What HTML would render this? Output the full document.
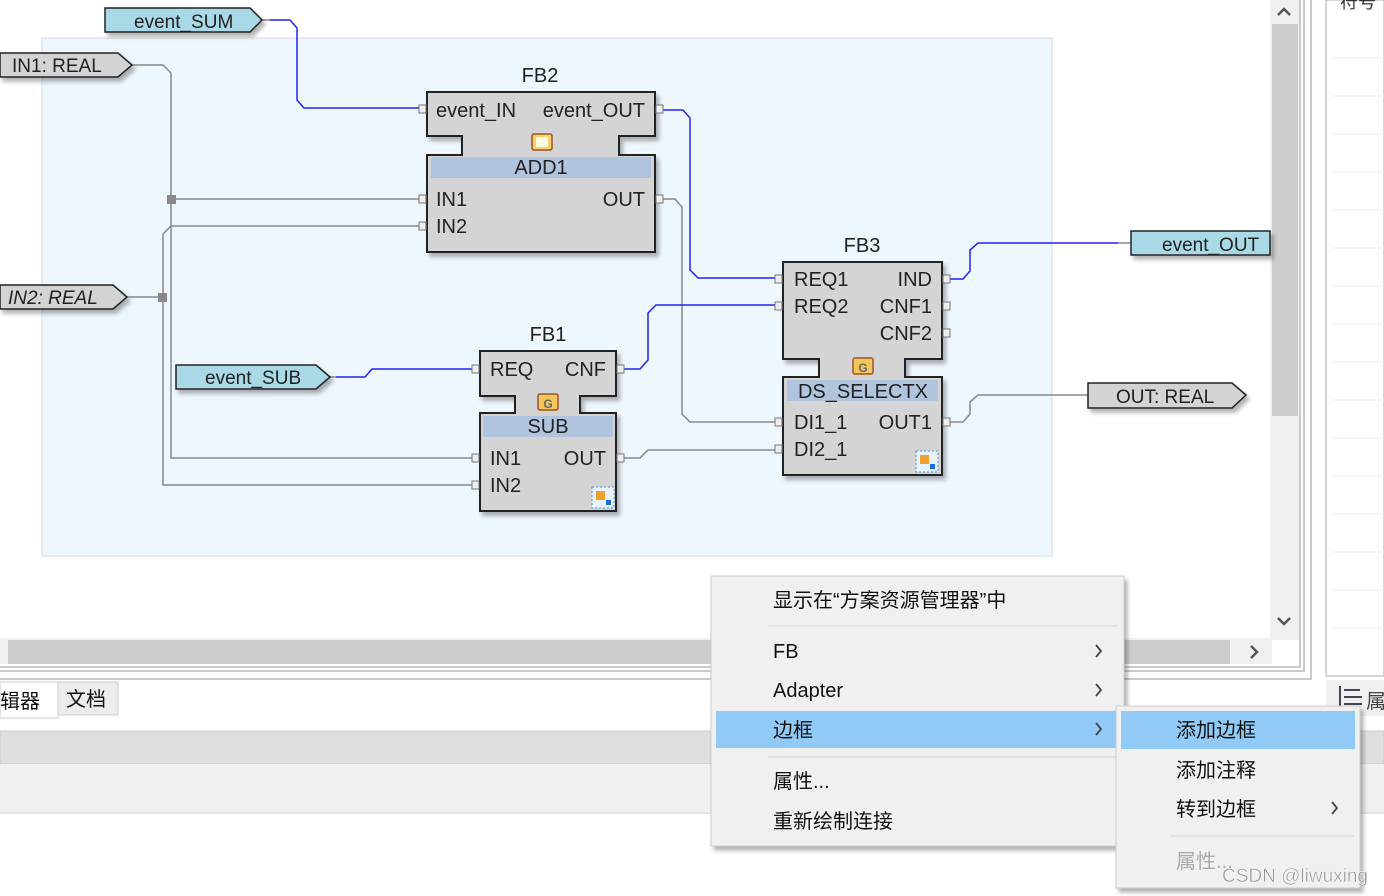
<!DOCTYPE html>
<html><head><meta charset="utf-8"><style>
html,body{margin:0;padding:0;background:#fff;width:1384px;height:896px;overflow:hidden}
svg{position:absolute;left:0;top:0}
text{font-family:"Liberation Sans","Noto Sans CJK SC",sans-serif}
.cj{font-family:"Liberation Sans","Noto Sans CJK SC",sans-serif}
</style></head><body>
<svg width="1384" height="896" viewBox="0 0 1384 896">
<defs>
<filter id="sh" x="-10%" y="-10%" width="130%" height="130%"><feDropShadow dx="3" dy="4" stdDeviation="2" flood-color="#000" flood-opacity="0.3"/></filter>
</defs>
<rect x="42" y="38" width="1010" height="518" fill="#eef6fe" stroke="#d4dbe2"/>
<rect x="1270" y="0" width="29" height="640" fill="#f0f0f0"/>
<rect x="1272" y="24" width="26" height="392" fill="#cdcdcd"/>
<path d="M1278 15L1284 9L1290 15" fill="none" stroke="#555" stroke-width="2.5"/>
<path d="M1278 618L1284 624L1290 618" fill="none" stroke="#555" stroke-width="2.5"/>
<rect x="0" y="638" width="1272" height="26" fill="#f0f0f0"/>
<rect x="8" y="640" width="1222" height="24" fill="#cdcdcd"/>
<path d="M1251 646L1257 652L1251 658" fill="none" stroke="#555" stroke-width="2.5"/>
<path d="M0 667H1300V0M0 671H1304V0M0 679H1311V0" fill="none" stroke="#b8b8b8" stroke-width="1.5"/>
<rect x="1326" y="0" width="58" height="676" fill="#fff" stroke="#aaa"/>
<path d="M1331 58H1384M1331 96H1384M1331 134H1384M1331 172H1384M1331 210H1384M1331 248H1384M1331 286H1384M1331 324H1384M1331 362H1384M1331 400H1384M1331 438H1384M1331 476H1384M1331 514H1384M1331 552H1384M1331 590H1384M1331 628H1384" stroke="#eee"/>
<text x="1340" y="8" font-size="18" class="cj" fill="#333">符号</text>
<rect x="1326" y="680" width="58" height="36" fill="#f0f0f0"/>
<path d="M1340 686V708M1344 690H1360M1344 697H1362M1344 704H1362" stroke="#445" stroke-width="2"/>
<text x="1366" y="708" font-size="20" class="cj" fill="#444">属</text>
<rect x="0" y="682" width="58" height="36" fill="#fff" stroke="#ccc"/>
<text x="0" y="708" font-size="20" class="cj" fill="#111">辑器</text>
<rect x="58" y="682" width="60" height="33" fill="#ececec" stroke="#ccc"/>
<text x="66" y="706" font-size="20" class="cj" fill="#111">文档</text>
<rect x="0" y="731" width="1384" height="33" fill="#dedede" stroke="#ccc"/>
<rect x="0" y="764" width="1384" height="48" fill="#f0f0f0"/>
<line x1="0" y1="813" x2="1384" y2="813" stroke="#ccc"/>

<g fill="none" stroke="#888" stroke-width="1.5">
<path d="M132 65H163L171 73V458H473"/>
<path d="M171 199H420"/>
<path d="M127 297H163V234L171 226H420"/>
<path d="M163 297V485H473"/>
<path d="M662 199H675L682 207V414L690 422H777"/>
<path d="M623 458H640L648 450H777"/>
<path d="M949 422H963L970 414V402L978 395H1088"/>
</g>
<rect x="167" y="195" width="9" height="9" fill="#888"/>
<rect x="158" y="293" width="9" height="9" fill="#888"/>
<g fill="none" stroke="#2222ee" stroke-width="1.5">
<path d="M270 20H290L297 28V100L304 108H420"/>
<path d="M662 110H683L690 118V270L698 278H777"/>
<path d="M336 377H365L372 369H473"/>
<path d="M623 369H640L648 360V313L656 305H777"/>
<path d="M949 279H963L970 271V250L978 243H1118"/>
</g>
<path d="M262 20H270M330 377H336M1118 243H1131" stroke="#888" stroke-width="1.5"/>

<g stroke="#222" stroke-width="1.5" filter="url(#sh)">
<polygon points="105,8 250,8 262,20 250,32 105,32" fill="#a9d8e6"/>
<polygon points="0,53 118,53 132,65 118,77 0,77" fill="#d3d3d3"/>
<polygon points="0,285 113,285 127,297 113,309 0,309" fill="#d3d3d3"/>
<polygon points="176,365 316,365 330,377 316,389 176,389" fill="#a9d8e6"/>
<polygon points="1131,231 1270,231 1270,255 1131,255" fill="#a9d8e6"/>
<polygon points="1088,383 1232,383 1246,395 1232,408 1088,408" fill="#d3d3d3"/>
</g>
<g font-size="19" fill="#222">
<text x="134" y="28">event_SUM</text>
<text x="12" y="72">IN1: REAL</text>
<text x="8" y="304" font-style="italic">IN2: REAL</text>
<text x="205" y="384">event_SUB</text>
<text x="1162" y="251">event_OUT</text>
<text x="1116" y="403">OUT: REAL</text>
</g>

<g fill="#d4d4d4" stroke="#222" stroke-width="2" filter="url(#sh)">
<polygon points="427,92 655,92 655,136 619,136 619,155 655,155 655,252 427,252 427,155 462,155 462,136 427,136"/>
<polygon points="783,262 942,262 942,359 905,359 905,377 942,377 942,475 783,475 783,377 819,377 819,359 783,359"/>
<polygon points="480,351 616,351 616,396 580,396 580,413 616,413 616,511 480,511 480,413 515,413 515,396 480,396"/>
</g>
<rect x="431" y="157" width="220" height="21" fill="#b0c4de"/>
<rect x="787" y="380" width="151" height="21" fill="#b0c4de"/>
<rect x="483" y="416" width="130" height="21" fill="#b0c4de"/>
<g fill="#eee" stroke="#777" stroke-width="1">
<rect x="419" y="105" width="7" height="8"/><rect x="656" y="105" width="7" height="8"/>
<rect x="419" y="195" width="7" height="8"/><rect x="419" y="222" width="7" height="8"/><rect x="656" y="195" width="7" height="8"/>
<rect x="775" y="275" width="7" height="8"/><rect x="775" y="302" width="7" height="8"/>
<rect x="943" y="275" width="7" height="8"/><rect x="943" y="302" width="7" height="8"/><rect x="943" y="329" width="7" height="8"/>
<rect x="775" y="418" width="7" height="8"/><rect x="775" y="445" width="7" height="8"/><rect x="943" y="418" width="7" height="8"/>
<rect x="472" y="365" width="7" height="8"/><rect x="617" y="365" width="7" height="8"/>
<rect x="472" y="454" width="7" height="8"/><rect x="472" y="481" width="7" height="8"/><rect x="617" y="454" width="7" height="8"/>
</g>
<g stroke="#a0522d" stroke-width="1.5">
<rect x="532" y="134" width="20" height="16" rx="2" fill="#f3d36a"/>
<rect x="853" y="358" width="20" height="16" rx="2" fill="#f3c75a"/>
<rect x="538" y="394" width="20" height="16" rx="2" fill="#f3c75a"/>
</g>
<rect x="536" y="137" width="12" height="10" fill="#fffbe0"/>
<text x="863" y="372" font-size="12" font-weight="bold" text-anchor="middle" fill="#666">G</text>
<text x="548" y="408" font-size="12" font-weight="bold" text-anchor="middle" fill="#666">G</text>
<g stroke="#4a90d9" stroke-dasharray="2,2" fill="#e8f2fb">
<rect x="916" y="451" width="22" height="21"/>
<rect x="592" y="487" width="22" height="21"/>
</g>
<rect x="920" y="455" width="9" height="9" fill="#f0a030"/><rect x="930" y="464" width="5" height="5" fill="#1a6ed8"/>
<rect x="596" y="491" width="9" height="9" fill="#f0a030"/><rect x="606" y="500" width="5" height="5" fill="#1a6ed8"/>

<g font-size="20" fill="#222">
<text x="540" y="82" text-anchor="middle">FB2</text>
<text x="436" y="117">event_IN</text>
<text x="645" y="117" text-anchor="end">event_OUT</text>
<text x="541" y="174" text-anchor="middle">ADD1</text>
<text x="436" y="206">IN1</text>
<text x="436" y="233">IN2</text>
<text x="645" y="206" text-anchor="end">OUT</text>
<text x="862" y="252" text-anchor="middle">FB3</text>
<text x="794" y="286">REQ1</text>
<text x="794" y="313">REQ2</text>
<text x="932" y="286" text-anchor="end">IND</text>
<text x="932" y="313" text-anchor="end">CNF1</text>
<text x="932" y="340" text-anchor="end">CNF2</text>
<text x="863" y="398" text-anchor="middle">DS_SELECTX</text>
<text x="794" y="429">DI1_1</text>
<text x="794" y="456">DI2_1</text>
<text x="932" y="429" text-anchor="end">OUT1</text>
<text x="548" y="341" text-anchor="middle">FB1</text>
<text x="490" y="376">REQ</text>
<text x="606" y="376" text-anchor="end">CNF</text>
<text x="548" y="433" text-anchor="middle">SUB</text>
<text x="490" y="465">IN1</text>
<text x="490" y="492">IN2</text>
<text x="606" y="465" text-anchor="end">OUT</text>
</g>

<g filter="url(#sh)">
<rect x="711" y="576" width="413" height="270" fill="#f0f0f0" stroke="#ccc"/>
</g>
<line x1="768" y1="626" x2="1118" y2="626" stroke="#d8d8d8"/>
<line x1="768" y1="757" x2="1118" y2="757" stroke="#d8d8d8"/>
<rect x="716" y="711" width="403" height="37" fill="#91c9f7"/>
<g font-size="20" class="cj" fill="#111">
<text x="773" y="607">显示在“方案资源管理器”中</text>
<text x="773" y="658">FB</text>
<text x="773" y="697">Adapter</text>
<text x="773" y="737">边框</text>
<text x="773" y="788">属性...</text>
<text x="773" y="828">重新绘制连接</text>
</g>
<g fill="none" stroke="#444" stroke-width="1.8">
<path d="M1096 645L1101 651L1096 657"/>
<path d="M1096 684L1101 690L1096 696"/>
<path d="M1096 723L1101 729L1096 735"/>
</g>
<g filter="url(#sh)">
<rect x="1116" y="706" width="244" height="182" fill="#f0f0f0" stroke="#ccc"/>
</g>
<rect x="1121" y="711" width="234" height="38" fill="#91c9f7"/>
<line x1="1170" y1="836" x2="1355" y2="836" stroke="#d8d8d8"/>
<path d="M1332 802L1337 808L1332 814" fill="none" stroke="#444" stroke-width="1.8"/>
<g font-size="20" class="cj" fill="#111">
<text x="1176" y="737">添加边框</text>
<text x="1176" y="777">添加注释</text>
<text x="1176" y="816">转到边框</text>
<text x="1176" y="868" fill="#aaa">属性...</text>
</g>
<text x="1222" y="882" font-size="19" fill="#999" stroke="#fff" stroke-width="0.4">CSDN @liwuxing</text>
</svg>
</body></html>
